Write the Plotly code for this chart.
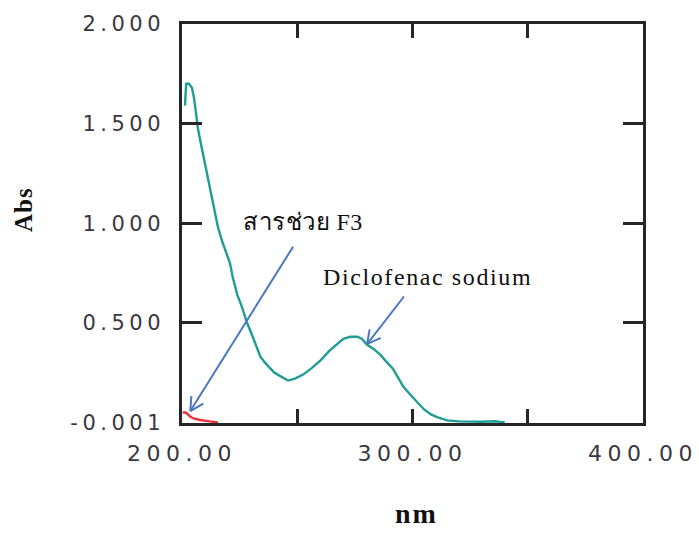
import math
import plotly.graph_objects as go

# ---------------- data ----------------
wavelength_diclofenac = [201.3, 201.8, 203.0, 204.3, 205.2, 206.0, 207.0, 208.0, 210.0, 212.0,
                         214.0, 215.6, 217.4, 219.0, 220.8, 222.0, 224.0, 226.0, 228.2, 230.0,
                         232.0, 234.0, 236.0, 238.2, 240.0, 243.0, 246.0, 249.0, 252.5, 256.0,
                         260.0, 264.0, 267.2, 270.0, 273.0, 276.0, 278.0, 280.3, 283.0, 286.0,
                         289.0, 291.5, 294.0, 296.0, 299.0, 302.0, 305.0, 308.0, 311.0, 315.0,
                         320.0, 330.0, 336.0, 338.0, 340.0]
abs_diclofenac = [1.59, 1.70, 1.70, 1.68, 1.63, 1.55, 1.47, 1.41, 1.30, 1.18,
                  1.07, 0.98, 0.91, 0.86, 0.80, 0.73, 0.64, 0.58, 0.50, 0.45,
                  0.39, 0.33, 0.30, 0.27, 0.25, 0.23, 0.21, 0.22, 0.24, 0.27,
                  0.31, 0.36, 0.39, 0.42, 0.43, 0.43, 0.42, 0.39, 0.37, 0.34,
                  0.30, 0.27, 0.22, 0.18, 0.14, 0.10, 0.065, 0.04, 0.025, 0.01,
                  0.005, 0.003, 0.006, 0.002, 0.001]

wavelength_f3 = [200.3, 201.5, 202.6, 203.5, 205.0, 207.8, 212.0, 215.6]
abs_f3 = [0.05, 0.05, 0.04, 0.03, 0.02, 0.012, 0.005, 0.0]

x_tick_vals = [200, 250, 300, 350, 400]
x_tick_text = ["200.00", "", "300.00", "", "400.00"]
y_tick_vals = [-0.001, 0.5, 1.0, 1.5, 2.0]
y_tick_text = ["-0.001", "0.500", "1.000", "1.500", "2.000"]

label_f3 = "สารช่วย F3"
label_dic = "Diclofenac sodium"
x_title = "nm"
y_title = "Abs"

# ---------------- layout constants ----------------
W, H = 699, 533
ML, MR, MT, MB = 182, 56, 24, 110
X_RANGE = [200, 400]
Y_RANGE = [-0.003, 2.0]
PW, PH = W - ML - MR, H - MT - MB
sx = PW / (X_RANGE[1] - X_RANGE[0])
sy = PH / (Y_RANGE[1] - Y_RANGE[0])

TEAL = "#1f9d95"
RED = "#e8323c"
BLUE = "#4a78c0"
AXIS = "#262626"
TICKFONT = "#3b3742"

def spaced(t, px):
    return f'<span style="letter-spacing:{px}px">{t}</span>' if t else ""

fig = go.Figure()
fig.add_trace(go.Scatter(x=wavelength_diclofenac, y=abs_diclofenac, mode="lines",
                         line=dict(color=TEAL, width=2.4), showlegend=False))
fig.add_trace(go.Scatter(x=wavelength_f3, y=abs_f3, mode="lines",
                         line=dict(color=RED, width=2.4), showlegend=False))

# arrows (shaft + open chevron head), placed in data coordinates
def arrow_shapes(tail, head, arm=15, ang=28):
    shapes = [dict(type="line", xref="x", yref="y", x0=tail[0], y0=tail[1],
                   x1=head[0], y1=head[1], line=dict(color=BLUE, width=2))]
    dx = (tail[0] - head[0]) * sx
    dy = (tail[1] - head[1]) * sy
    n = math.hypot(dx, dy)
    ux, uy = dx / n, dy / n
    for s in (1, -1):
        a = math.radians(ang) * s
        rx = ux * math.cos(a) - uy * math.sin(a)
        ry = ux * math.sin(a) + uy * math.cos(a)
        shapes.append(dict(type="line", xref="x", yref="y", x0=head[0], y0=head[1],
                           x1=head[0] + rx * arm / sx, y1=head[1] + ry * arm / sy,
                           line=dict(color=BLUE, width=2)))
    return shapes

shapes = []
shapes += arrow_shapes((248.2, 0.882), (203.6, 0.057))
shapes += arrow_shapes((296.3, 0.632), (280.3, 0.393))

serif = "Liberation Serif, Times New Roman, serif"
annotations = [
    dict(x=225.5, y=1.008, xref="x", yref="y", text=spaced(label_f3, 0.5), showarrow=False,
         xanchor="left", yanchor="middle", font=dict(family=serif, size=24, color="#111")),
    dict(x=260.5, y=0.728, xref="x", yref="y", text=spaced(label_dic, 1.6), showarrow=False,
         xanchor="left", yanchor="middle", font=dict(family=serif, size=24, color="#111")),
    dict(x=(416 - ML) / PW, y=(MT + PH - 531) / PH, xref="paper", yref="paper",
         text=spaced(x_title, 2), showarrow=False, xanchor="center", yanchor="bottom",
         font=dict(family=serif, size=28, color="#111", weight="bold")),
    dict(x=(23 - ML) / PW, y=(MT + PH - 210) / PH, xref="paper", yref="paper",
         text=spaced(y_title, 1), showarrow=False, textangle=-90, xanchor="center",
         yanchor="middle", font=dict(family=serif, size=25, color="#111", weight="bold")),
]

fig.update_layout(
    width=W, height=H, margin=dict(l=ML, r=MR, t=MT, b=MB, autoexpand=False),
    paper_bgcolor="white", plot_bgcolor="white",
    shapes=shapes, annotations=annotations, showlegend=False,
    xaxis=dict(range=X_RANGE, tickvals=x_tick_vals,
               ticktext=[spaced(t, 5.5) for t in x_tick_text],
               ticks="inside", ticklen=14, tickwidth=2.5, tickcolor=AXIS,
               showline=True, linecolor=AXIS, linewidth=2.5, mirror="ticks",
               showgrid=False, zeroline=False, ticklabelstandoff=9,
               tickfont=dict(family="DejaVu Sans", size=22, color=TICKFONT)),
    yaxis=dict(range=Y_RANGE, tickvals=y_tick_vals,
               ticktext=[spaced(t, 4.5) for t in y_tick_text],
               ticks="inside", ticklen=20, tickwidth=2.5, tickcolor=AXIS,
               showline=True, linecolor=AXIS, linewidth=2.5, mirror="ticks",
               showgrid=False, zeroline=False, ticklabelstandoff=10,
               tickfont=dict(family="DejaVu Sans", size=21, color=TICKFONT)),
)

fig.write_html("out.html")
